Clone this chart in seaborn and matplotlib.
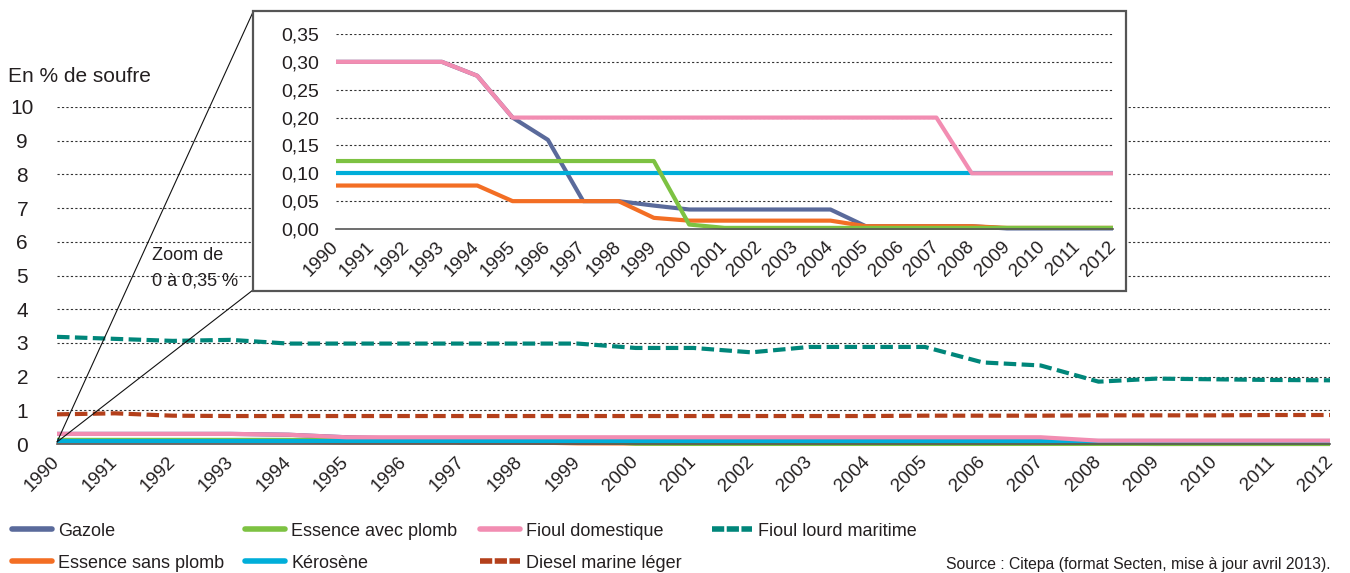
import matplotlib
matplotlib.use("Agg")
import matplotlib.pyplot as plt
from matplotlib.lines import Line2D
from matplotlib.patches import Rectangle
import seaborn as sns
import numpy as np

# ---------------- data ----------------
years = list(range(1990, 2013))
year_labels = [str(y) for y in years]

gazole = [0.30, 0.30, 0.30, 0.30, 0.275, 0.20, 0.16, 0.05, 0.05, 0.042, 0.035,
          0.035, 0.035, 0.035, 0.035, 0.005, 0.005, 0.005, 0.005, 0.001, 0.001, 0.001, 0.001]
essence_avec_plomb = [0.122] * 10 + [0.008] + [0.002] * 12
fioul_domestique = [0.30, 0.30, 0.30, 0.30, 0.275] + [0.20] * 13 + [0.10] * 5
kerosene = [0.10] * 23
essence_sans_plomb = [0.078] * 5 + [0.05] * 4 + [0.02] + [0.015] * 5 + [0.005] * 4 + [0.002] * 4
fioul_lourd_maritime = [3.18, 3.12, 3.06, 3.09, 2.98, 2.98, 2.98, 2.98, 2.98, 2.98, 2.85,
                        2.85, 2.72, 2.88, 2.88, 2.88, 2.42, 2.33, 1.85, 1.94, 1.92, 1.90, 1.89]
diesel_marine_leger = [0.88, 0.91, 0.84, 0.83, 0.83, 0.83, 0.83, 0.83, 0.83, 0.83, 0.83,
                       0.83, 0.83, 0.83, 0.83, 0.84, 0.84, 0.84, 0.85, 0.85, 0.85, 0.86, 0.86]

main_yticks = list(range(0, 11))
inset_yticks = [0.0, 0.05, 0.10, 0.15, 0.20, 0.25, 0.30, 0.35]
inset_ytick_labels = ["0,00", "0,05", "0,10", "0,15", "0,20", "0,25", "0,30", "0,35"]

# ---------------- style ----------------
sns.set_style("white")
plt.rcParams["font.family"] = ["Liberation Sans", "DejaVu Sans"]

C_GAZ = "#5a6a9b"
C_EAP = "#7dc242"
C_FD = "#f28db2"
C_KER = "#00aed9"
C_ESP = "#f36e24"
C_FLM = "#00867a"
C_DML = "#b4401b"
TXT = "#231f20"

W, H = 1350, 573
fig = plt.figure(figsize=(13.5, 5.73), dpi=100)

def fx(px):
    return px / W

def fy(py):
    return 1 - py / H

LW = 3.0
DASH = (0, (3.0, 1.3))

# ---------------- main axes ----------------
ax = fig.add_axes([fx(57), fy(444), fx(1330) - fx(57), fy(107) - fy(444)])
ax.set_zorder(1)

main_series = [
    (gazole, C_GAZ, "-"),
    (essence_sans_plomb, C_ESP, "-"),
    (essence_avec_plomb, C_EAP, "-"),
    (kerosene, C_KER, "-"),
    (fioul_domestique, C_FD, "-"),
    (diesel_marine_leger, C_DML, DASH),
    (fioul_lourd_maritime, C_FLM, DASH),
]
for vals, col, ls in main_series:
    sns.lineplot(x=years, y=vals, ax=ax, color=col, linewidth=LW,
                 linestyle=ls, clip_on=False, solid_capstyle="butt")

ax.set_xlim(1990, 2012)
ax.set_ylim(0, 10)
ax.set_xticks(years)
ax.set_xticklabels(year_labels, rotation=45, ha="right", va="center",
                   rotation_mode="anchor", fontsize=13.5, color=TXT)
ax.set_yticks(main_yticks)
ax.set_yticklabels([str(v) for v in main_yticks], fontsize=15, color=TXT, ha="center")
ax.tick_params(axis="y", length=0, pad=25)
ax.tick_params(axis="x", length=7, width=1, color="#555555", direction="out", pad=4)
ax.set_xlabel("")
ax.set_ylabel("")
for s in ["top", "right", "left"]:
    ax.spines[s].set_visible(False)
ax.spines["bottom"].set_color("#555555")
ax.spines["bottom"].set_linewidth(1.2)
for v in main_yticks[1:]:
    ax.axhline(v, color="#333333", lw=0.8, linestyle=(0, (2, 2)), zorder=0)

fig.text(fx(8), fy(77), "En % de soufre", fontsize=15, color=TXT, ha="left", va="center")

# ---------------- zoom lines + box ----------------
for ty in (12, 290):
    fig.add_artist(Line2D([fx(57), fx(253)], [fy(442), fy(ty)], transform=fig.transFigure,
                          color="#111111", lw=0.8, zorder=2))
box = Rectangle((fx(253), fy(291)), fx(1126) - fx(253), fy(11) - fy(291),
                transform=fig.transFigure, facecolor="white", edgecolor="#555555",
                lw=1.6, zorder=3)
fig.add_artist(box)

fig.text(fx(152), fy(256), "Zoom de", fontsize=13, color=TXT, ha="left", va="center")
fig.text(fx(152), fy(281), "0 à 0,35 %", fontsize=13, color=TXT, ha="left", va="center")

# ---------------- inset axes ----------------
axi = fig.add_axes([fx(336), fy(229), fx(1113) - fx(336), fy(34) - fy(229)])
axi.set_zorder(4)
axi.patch.set_alpha(0)

inset_series = [
    (gazole, C_GAZ),
    (kerosene, C_KER),
    (essence_sans_plomb, C_ESP),
    (essence_avec_plomb, C_EAP),
    (fioul_domestique, C_FD),
]
for vals, col in inset_series:
    sns.lineplot(x=years, y=vals, ax=axi, color=col, linewidth=LW,
                 clip_on=False, solid_capstyle="butt")

axi.set_xlim(1990, 2012)
axi.set_ylim(0, 0.35)
axi.set_xticks(years)
axi.set_xticklabels(year_labels, rotation=45, ha="right", va="center",
                    rotation_mode="anchor", fontsize=13.5, color=TXT)
axi.set_yticks(inset_yticks)
axi.set_yticklabels(inset_ytick_labels, fontsize=14, color=TXT)
axi.tick_params(axis="y", length=0, pad=12)
axi.tick_params(axis="x", length=7, width=1, color="#555555", direction="out", pad=4)
axi.set_xlabel("")
axi.set_ylabel("")
for s in ["top", "right", "left"]:
    axi.spines[s].set_visible(False)
axi.spines["bottom"].set_color("#555555")
axi.spines["bottom"].set_linewidth(1.2)
for v in inset_yticks[1:]:
    axi.axhline(v, color="#333333", lw=0.8, linestyle=(0, (2, 2)), zorder=0)

# ---------------- legend ----------------
legend_items = [
    ("Gazole", C_GAZ, "-", 12, 531),
    ("Essence avec plomb", C_EAP, "-", 245, 531),
    ("Fioul domestique", C_FD, "-", 480, 531),
    ("Fioul lourd maritime", C_FLM, (0, (2.2, 0.45)), 712, 531),
    ("Essence sans plomb", C_ESP, "-", 12, 563),
    ("Kérosène", C_KER, "-", 245, 563),
    ("Diesel marine léger", C_DML, (0, (2.2, 0.45)), 480, 563),
]
for lab, col, ls, x, y in legend_items:
    h = Line2D([0], [0], color=col, lw=4, linestyle=ls, solid_capstyle="round")
    leg = fig.legend(handles=[h], labels=[lab], loc="center left",
                     bbox_to_anchor=(fx(x), fy(y)), frameon=False, fontsize=13,
                     handlelength=2.2, handletextpad=0.35, borderpad=0, borderaxespad=0)
    for t in leg.get_texts():
        t.set_color(TXT)

fig.text(fx(1331), fy(565), "Source : Citepa (format Secten, mise à jour avril 2013).",
         fontsize=11.3, color=TXT, ha="right", va="center")

fig.savefig("out.png", dpi=100)
